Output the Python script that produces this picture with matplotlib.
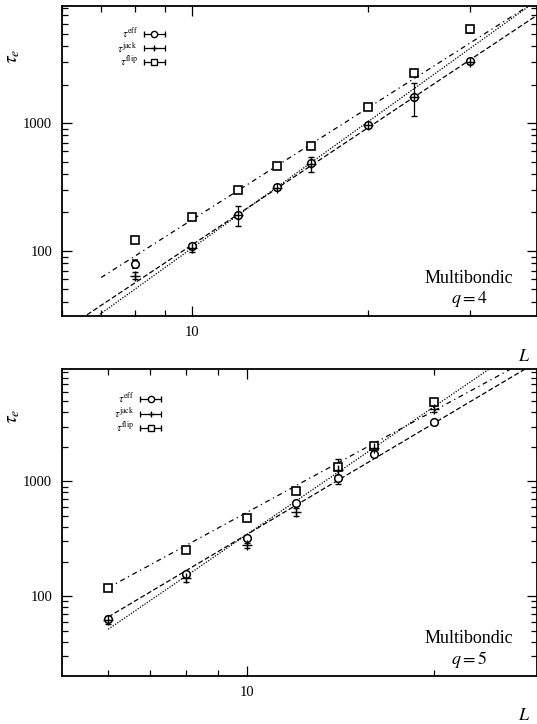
import numpy as np
import matplotlib
matplotlib.use('Agg')
import matplotlib.pyplot as plt
from matplotlib.ticker import LogLocator, NullFormatter, FixedLocator, FixedFormatter
from matplotlib.container import ErrorbarContainer
from matplotlib.legend_handler import HandlerErrorbar

plt.rcParams['font.family'] = ['Liberation Serif', 'DejaVu Serif']
plt.rcParams['mathtext.fontset'] = 'stix'

# ---- q = 4 ----
L_q4 = [8, 10, 12, 14, 16, 20, 24, 30]
eff_q4 = [79, 109, 191, 316, 487, 965, 1597, 3050]
eff_err_q4 = [6, 4, 8, 10, 12, 30, 60, 90]
jack_q4 = [64, 105, 190, 312, 480, 960, 1600, 3000]
jack_err_q4 = [4, 6, 33, 12, 65, 40, 470, 80]
flip_q4 = [122, 185, 300, 461, 661, 1334, 2455, 5420]
flip_err_q4 = [4, 6, 10, 15, 25, 50, 100, 350]

# fit lines (end points)
fit_eff_L_q4, fit_eff_tau_q4 = [6, 40], [23.5, 7520]
fit_jack_L_q4, fit_jack_tau_q4 = [6, 40], [19.6, 9890]
fit_flip_L_q4, fit_flip_tau_q4 = [7, 40], [62, 9775]

# ---- q = 5 ----
L_q5 = [6, 8, 10, 12, 14, 16, 20]
eff_q5 = [63, 155, 319, 644, 1062, 1717, 3260]
eff_err_q5 = [3, 8, 15, 30, 50, 80, 120]
jack_q5 = [62, 144, 277, 540, 1250, 1950, 4300]
jack_err_q5 = [5, 10, 15, 45, 300, 250, 300]
flip_q5 = [117, 251, 476, 819, 1324, 2015, 4860]
flip_err_q5 = [4, 10, 20, 40, 60, 120, 300]

fit_eff_L_q5, fit_eff_tau_q5 = [6, 30], [66, 11950]
fit_jack_L_q5, fit_jack_tau_q5 = [6, 30], [51.6, 20200]
fit_flip_L_q5, fit_flip_tau_q5 = [6, 30], [118.6, 13690]

labels = [r'$\tau^{\rm eff}$', r'$\tau^{\rm jack}$', r'$\tau^{\rm flip}$']


def panel(ax, L, eff, eff_err, jack, jack_err, flip, flip_err, fits,
          xlim, ylim, q, leg_anchor, lab_y):
    (fe_L, fe_t), (fj_L, fj_t), (ff_L, ff_t) = fits
    ax.set_xscale('log')
    ax.set_yscale('log')

    ax.plot(fe_L, fe_t, color='k', lw=0.9, dashes=(4, 2))
    ax.plot(fj_L, fj_t, color='k', lw=0.9, dashes=(1, 1.2))
    ax.plot(ff_L, ff_t, color='k', lw=0.9, dashes=(4, 3, 1, 3))

    kw = dict(color='k', ecolor='k', elinewidth=0.9, capsize=2.5, capthick=0.9,
              linestyle='none', zorder=3)
    ax.errorbar(L, flip, yerr=flip_err, marker='s', ms=6, mfc='white',
                mec='k', mew=1.2, **kw)
    ax.errorbar(L, eff, yerr=eff_err, marker='o', ms=5.5, mfc='white',
                mec='k', mew=1.1, **kw)
    ax.errorbar(L, jack, yerr=jack_err, marker='+', ms=7, mew=1.0, **kw)

    # legend proxies with horizontal bars
    h_eff = ax.errorbar([np.nan], [np.nan], xerr=[1], marker='o', ms=4.5,
                        mfc='white', mec='k', mew=1.0, **kw)
    h_jack = ax.errorbar([np.nan], [np.nan], xerr=[1], marker='+', ms=5, **kw)
    h_flip = ax.errorbar([np.nan], [np.nan], xerr=[1], marker='s', ms=5,
                         mfc='white', mec='k', mew=1.0, **kw)
    ax.legend([h_eff, h_jack, h_flip], labels, loc='upper right',
              bbox_to_anchor=leg_anchor, frameon=False, markerfirst=False,
              fontsize=8, labelspacing=-0.05, handletextpad=0.5,
              borderpad=0, borderaxespad=0, handlelength=2.0,
              handler_map={ErrorbarContainer: HandlerErrorbar(xerr_size=0.95)})

    ax.set_xlim(*xlim)
    ax.set_ylim(*ylim)
    ax.xaxis.set_major_locator(FixedLocator([10]))
    ax.xaxis.set_major_formatter(FixedFormatter(['10']))
    ax.xaxis.set_minor_locator(LogLocator(base=10, subs=np.arange(2, 10)))
    ax.xaxis.set_minor_formatter(NullFormatter())
    ax.yaxis.set_major_locator(FixedLocator([100, 1000]))
    ax.yaxis.set_major_formatter(FixedFormatter(['100', '1000']))
    ax.yaxis.set_minor_locator(LogLocator(base=10, subs=np.arange(2, 10)))
    ax.yaxis.set_minor_formatter(NullFormatter())
    ax.tick_params(which='both', direction='in', top=True, right=True,
                   labelsize=10.5, width=0.9)
    ax.tick_params(which='major', length=7, pad=7)
    ax.tick_params(which='minor', length=4)
    for s in ax.spines.values():
        s.set_linewidth(1.3)

    ax.set_ylabel(r'$\tau_e$', fontsize=14)
    ax.yaxis.set_label_coords(-0.085, lab_y)
    ax.text(0.973, -0.13, r'$L$', transform=ax.transAxes, fontsize=13,
            ha='center', va='center')
    ax.text(0.857, 0.085, 'Multibondic\n$q=%d$' % q, transform=ax.transAxes,
            fontsize=13, ha='center', va='center', linespacing=1.1)


fig = plt.figure(figsize=(5.37, 7.24), dpi=100)
ax1 = fig.add_axes([0.1155, 0.5635, 0.8845, 0.428])
ax2 = fig.add_axes([0.1155, 0.0663, 0.8845, 0.424])

panel(ax1, L_q4, eff_q4, eff_err_q4, jack_q4, jack_err_q4, flip_q4, flip_err_q4,
      [(fit_eff_L_q4, fit_eff_tau_q4), (fit_jack_L_q4, fit_jack_tau_q4),
       (fit_flip_L_q4, fit_flip_tau_q4)],
      (6, 39), (31, 8200), 4, (0.218, 0.937), 0.84)
panel(ax2, L_q5, eff_q5, eff_err_q5, jack_q5, jack_err_q5, flip_q5, flip_err_q5,
      [(fit_eff_L_q5, fit_eff_tau_q5), (fit_jack_L_q5, fit_jack_tau_q5),
       (fit_flip_L_q5, fit_flip_tau_q5)],
      (5.06, 29.2), (20.2, 9500), 5, (0.21, 0.928), 0.847)

fig.savefig('out.png', dpi=100)
